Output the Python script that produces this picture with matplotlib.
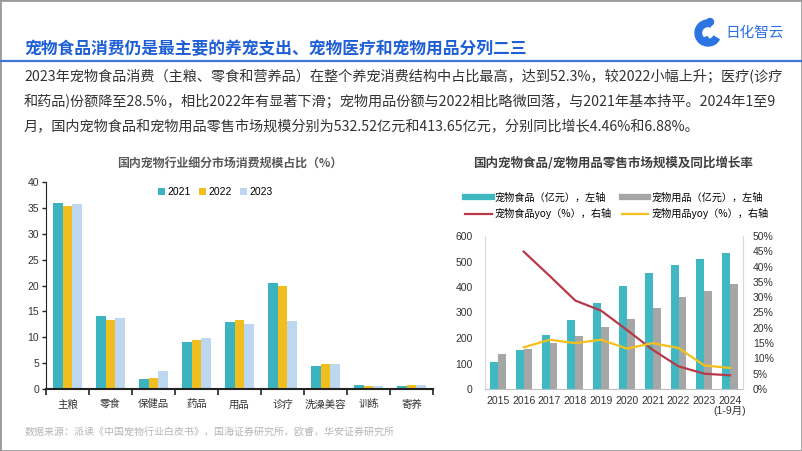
import matplotlib.pyplot as plt
import numpy as np
from matplotlib.lines import Line2D
from matplotlib.patches import Rectangle, Wedge, Circle

plt.rcParams['font.family'] = ['Liberation Sans', 'Noto Sans CJK SC', 'DejaVu Sans']

# left chart data: share of pet consumption by segment (%)
segments = ['主粮', '零食', '保健品', '药品', '用品', '诊疗', '洗澡美容', '训练', '寄养']
share_2021 = [35.9, 14.1, 1.9, 9.1, 13.0, 20.4, 4.5, 0.8, 0.6]
share_2022 = [35.4, 13.4, 2.2, 9.5, 13.4, 19.9, 4.9, 0.55, 0.7]
share_2023 = [35.7, 13.7, 3.5, 9.9, 12.6, 13.1, 4.8, 0.65, 0.7]

# right chart data: retail market size (100m yuan) and yoy (%)
years = ['2015', '2016', '2017', '2018', '2019', '2020', '2021', '2022', '2023', '2024\n(1-9月)']
food_size = [107, 154, 210, 271, 339, 402, 454, 487, 508, 532.52]
supply_size = [138, 156, 182, 209, 244, 276, 317, 359, 386, 413.65]
food_yoy = [None, 44.9, 37.0, 28.9, 25.6, 19.3, 12.8, 7.4, 5.0, 4.46]
supply_yoy = [None, 13.6, 16.1, 15.0, 16.1, 13.2, 15.0, 13.4, 7.7, 6.88]

W, H = 802, 451
fig = plt.figure(figsize=(W / 100, H / 100), dpi=100)
CJK = ['Noto Sans CJK SC', 'DejaVu Sans']


def fx(px):
    return px / W


def fy(py):
    return 1 - py / H


# frame, header line
fig.add_artist(Rectangle((0, 0), 1, 1, transform=fig.transFigure, fill=False,
                         edgecolor='#9a9a9a', lw=2))
fig.add_artist(Line2D([0, 1], [fy(61), fy(61)], transform=fig.transFigure,
                      color='#3c78d8', lw=1.6))

blue = '#1f5fd6'
fig.text(fx(24), fy(49), '宠物食品消费仍是最主要的养宠支出、宠物医疗和宠物用品分列二三',
         fontsize=12.1, fontweight='bold', color=blue, va='center', family=CJK)

# logo (drawn in inches so it stays round)
inch = fig.dpi_scale_trans
cx, cy = 7.08, (H - 33) / 100
fig.add_artist(Wedge((cx, cy), 0.13, 70, 330, width=0.065, transform=inch, color='#2b74e2'))
fig.add_artist(Circle((cx + 0.02, cy + 0.11), 0.035, transform=inch, color='#2b74e2'))
fig.add_artist(Wedge((cx + 0.04, cy - 0.02), 0.09, 200, 300, width=0.04, transform=inch,
                     color='#2b74e2'))
fig.text(fx(725), fy(33), '日化智云', fontsize=10.5, color='#2b6fe0', va='center', family=CJK)

# paragraph
para = ['2023年宠物食品消费（主粮、零食和营养品）在整个养宠消费结构中占比最高，达到52.3%，较2022小幅上升；医疗(诊疗',
        '和药品)份额降至28.5%，相比2022年有显著下滑；宠物用品份额与2022相比略微回落，与2021年基本持平。2024年1至9',
        '月，国内宠物食品和宠物用品零售市场规模分别为532.52亿元和413.65亿元，分别同比增长4.46%和6.88%。']
for i, line in enumerate(para):
    fig.text(fx(24), fy(77 + 25 * i), line, fontsize=10.2, color='#333333', va='center',
             family=CJK)

# ---- left chart ----
ax1 = fig.add_axes([fx(46), fy(389), fx(433 - 46), (389 - 182) / H])
x = np.arange(len(segments))
bw = 0.22
ax1.bar(x - bw, share_2021, bw, color='#3cb4c0', label='2021')
ax1.bar(x, share_2022, bw, color='#f0be1e', label='2022')
ax1.bar(x + bw, share_2023, bw, color='#bdd7f0', label='2023')
ax1.set_xlim(-0.5, len(segments) - 0.5)
ax1.set_ylim(0, 40)
ax1.set_yticks(range(0, 41, 5))
ax1.set_xticks(np.arange(-0.5, len(segments), 1))
ax1.set_xticklabels([])
ax1.tick_params(axis='x', length=4, width=1.2, color='#222222', direction='out')
ax1.tick_params(axis='y', length=3, width=1, color='#222222', labelsize=7.5,
                labelcolor='#333333', pad=2)
for i, s in enumerate(segments):
    ax1.text(i, -2.0, s, ha='center', va='top', fontsize=7.5, color='#333333')
for side in ['top', 'right']:
    ax1.spines[side].set_visible(False)
ax1.spines['left'].set_color('#222222')
ax1.spines['bottom'].set_color('#222222')
ax1.spines['bottom'].set_linewidth(1.5)
ax1.legend(loc='upper center', bbox_to_anchor=(0.437, 1.02), ncol=3, frameon=False,
           fontsize=7.5, handlelength=0.7, handleheight=0.7, handletextpad=0.2,
           columnspacing=0.8)
fig.text(fx(230), fy(163), '国内宠物行业细分市场消费规模占比（%）', ha='center', va='center',
         fontsize=8.6, fontweight='bold', color='#595959', family=CJK)

fig.text(fx(25), fy(432), '数据来源：派读《中国宠物行业白皮书》，国海证券研究所，欧睿，华安证券研究所',
         fontsize=7.2, color='#b5b5b5', va='center', family=CJK)

# ---- right chart ----
ax2 = fig.add_axes([fx(485), fy(389), fx(743 - 485), (389 - 236) / H])
xr = np.arange(len(years))
bw2 = 0.31
ax2.bar(xr - bw2 / 2, food_size, bw2, color='#3fb8c2')
ax2.bar(xr + bw2 / 2, supply_size, bw2, color='#a6a6a6')
ax2.set_xlim(-0.5, len(years) - 0.5)
ax2.set_ylim(0, 600)
ax2.set_yticks(range(0, 601, 100))
ax2.set_xticks(xr)
ax2.set_xticklabels(years, linespacing=0.95)
ax2.tick_params(axis='both', length=0, labelsize=7.5, labelcolor='#333333')
ax2.tick_params(axis='y', pad=9)
ax2.tick_params(axis='x', pad=5)
for side in ['top', 'right']:
    ax2.spines[side].set_visible(False)
ax2.spines['left'].set_color('#d9d9d9')
ax2.spines['bottom'].set_color('#bfbfbf')

ax3 = ax2.twinx()
fy_idx = [i for i, v in enumerate(food_yoy) if v is not None]
ax3.plot(fy_idx, [food_yoy[i] for i in fy_idx], color='#b83a48', lw=1.6)
sy_idx = [i for i, v in enumerate(supply_yoy) if v is not None]
ax3.plot(sy_idx, [supply_yoy[i] for i in sy_idx], color='#f5c01c', lw=1.6)
ax3.set_ylim(0, 50)
ax3.set_yticks(range(0, 51, 5))
ax3.set_yticklabels([f'{v}%' for v in range(0, 51, 5)])
ax3.tick_params(axis='y', length=0, labelsize=7.5, labelcolor='#333333', pad=7)
for side in ['top', 'left', 'bottom']:
    ax3.spines[side].set_visible(False)
ax3.spines['right'].set_color('#d9d9d9')

fig.text(fx(613), fy(163), '国内宠物食品/宠物用品零售市场规模及同比增长率', ha='center', va='center',
         fontsize=9, fontweight='bold', color='#404040', family=CJK)

handles = [Line2D([], [], color='#3fb8c2', lw=4.5),
           Line2D([], [], color='#b83a48', lw=1.6),
           Line2D([], [], color='#a6a6a6', lw=4.5),
           Line2D([], [], color='#f5c01c', lw=1.6)]
labels = ['宠物食品（亿元），左轴', '宠物食品yoy（%），右轴',
          '宠物用品（亿元），左轴', '宠物用品yoy（%），右轴']
fig.legend(handles, labels, loc='center', bbox_to_anchor=(fx(617), fy(206)), ncol=2,
           frameon=False, handlelength=2.6, handletextpad=0.3,
           columnspacing=1.0, labelspacing=0.5, prop={'family': CJK, 'size': 7.3})

fig.savefig('out.png', dpi=100)
